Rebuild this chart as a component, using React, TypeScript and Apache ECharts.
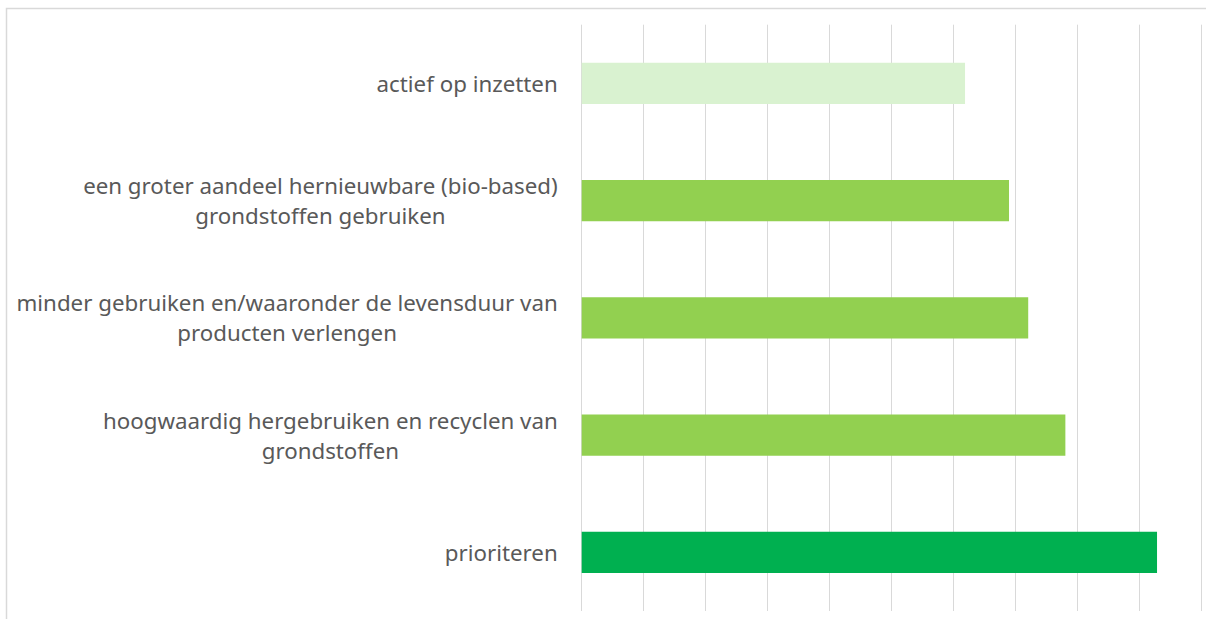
import React, { useEffect, useRef } from "react";
import * as echarts from "echarts";

const categories = [
  "actief op inzetten",
  "een groter aandeel hernieuwbare (bio-based)\ngrondstoffen gebruiken",
  "minder gebruiken en/waaronder de levensduur van\nproducten verlengen",
  "hoogwaardig hergebruiken en recyclen van\ngrondstoffen",
  "prioriteren",
];
const values = [6.19, 6.9, 7.21, 7.81, 9.29];
const barColors = ["#d9f2d0", "#92d050", "#92d050", "#92d050", "#00b050"];

export default function App() {
  const ref = useRef<HTMLDivElement>(null);
  useEffect(() => {
    if (!ref.current) return;
    const chart = echarts.init(ref.current, null, { renderer: "svg" });
    chart.setOption({
      animation: false,
      graphic: [
        {
          type: "rect",
          shape: { x: 6.5, y: 8.5, width: 1400, height: 800 },
          style: { fill: "none", stroke: "#d9d9d9", lineWidth: 1.5 },
          silent: true,
        },
      ],
      grid: { left: 581.7, right: 5, top: 24.7, bottom: 8, containLabel: false },
      xAxis: {
        type: "value",
        min: 0,
        max: 10,
        interval: 1,
        axisLabel: { show: false },
        axisLine: { show: false },
        axisTick: { show: false },
        splitLine: { show: true, lineStyle: { color: "#d9d9d9", width: 1 } },
      },
      yAxis: {
        type: "category",
        inverse: true,
        data: categories,
        axisLine: { show: false },
        axisTick: { show: false },
        axisLabel: {
          margin: 24,
          color: "#595959",
          fontSize: 22.3,
          fontFamily: "Noto Sans",
          align: "right",
          lineHeight: 30,
          formatter: (v: string) =>
            v
              .split("\n")
              .map((l) => `{c|${l}}`)
              .join("\n"),
          rich: {
            c: {
              align: "center",
              color: "#595959",
              fontSize: 22.3,
              fontFamily: "Noto Sans",
              lineHeight: 30,
            },
          },
        },
      },
      series: [
        {
          type: "bar",
          barWidth: "35.2%",
          data: values.map((v, i) => ({ value: v, itemStyle: { color: barColors[i] } })),
        },
      ],
    });
    return () => chart.dispose();
  }, []);
  return (
    <div
      ref={ref}
      style={{ position: "absolute", left: 0, top: 0, width: 1206, height: 619, background: "#fff" }}
    />
  );
}
